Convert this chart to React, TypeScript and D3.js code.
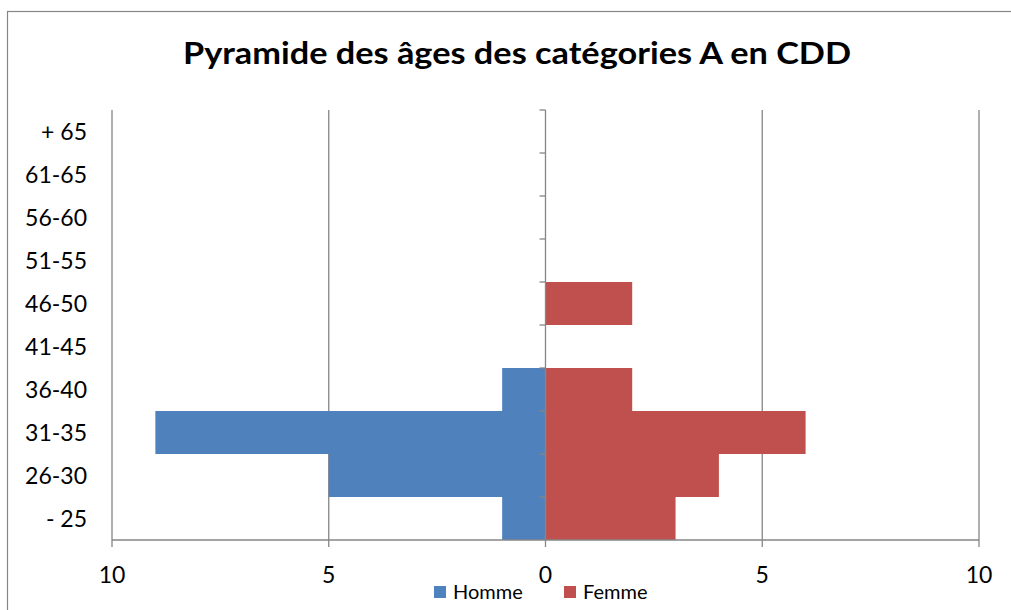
import React from "react";
import * as d3 from "d3";

const categories = ["- 25", "26-30", "31-35", "36-40", "41-45", "46-50", "51-55", "56-60", "61-65", "+ 65"];
const homme = [1, 5, 9, 1, 0, 0, 0, 0, 0, 0];
const femme = [3, 4, 6, 2, 0, 2, 0, 0, 0, 0];
const xTicks = [-10, -5, 0, 5, 10];
const title = "Pyramide des âges des catégories A en CDD";
const seriesNames = ["Homme", "Femme"];
const colors = ["#4F81BD", "#C0504D"];

const W = 1011;
const H = 610;
const FONT = "Lato, 'Open Sans', sans-serif";

export default function App() {
  const x = d3.scaleLinear().domain([-10, 10]).range([112, 979]);
  const y = d3.scaleBand<string>().domain(categories).range([540, 110]).padding(0);
  const grid = "#868686";
  const bw = y.bandwidth();

  return (
    <svg width={W} height={H} style={{ position: "absolute", left: 0, top: 0 }} fontFamily={FONT}>
      <rect x={0} y={0} width={W} height={H} fill="#fff" />
      <rect x={7.5} y={11.5} width={W + 10} height={H + 10} fill="none" stroke={grid} strokeWidth={1.2} />
      <text x={183} y={64} textAnchor="start" fontSize={31} fontWeight="bold" fill="#000"
        textLength={668} lengthAdjust="spacingAndGlyphs">
        {title}
      </text>
      {/* gridlines */}
      {xTicks.filter((t) => t !== 0).map((t) => (
        <line key={"g" + t} x1={x(t)} x2={x(t)} y1={110} y2={547} stroke={grid} strokeWidth={1.3} />
      ))}
      {/* bars */}
      {categories.map((c, i) => (
        <g key={c}>
          {homme[i] > 0 && (
            <rect x={x(-homme[i])} y={y(c)!} width={x(0) - x(-homme[i])} height={bw} fill={colors[0]} />
          )}
          {femme[i] > 0 && (
            <rect x={x(0)} y={y(c)!} width={x(femme[i]) - x(0)} height={bw} fill={colors[1]} />
          )}
        </g>
      ))}
      {/* bottom axis */}
      <line x1={x(-10)} x2={x(10)} y1={540} y2={540} stroke={grid} strokeWidth={1.3} />
      <line x1={x(0)} x2={x(0)} y1={540} y2={547} stroke={grid} strokeWidth={1.3} />
      {/* center axis */}
      <line x1={x(0)} x2={x(0)} y1={110} y2={540} stroke={grid} strokeWidth={1.3} />
      {categories.map((c) => (
        <line key={"t" + c} x1={x(0) - 6} x2={x(0)} y1={y(c)!} y2={y(c)!} stroke={grid} strokeWidth={1.3} />
      ))}
      {/* y labels */}
      {categories.map((c) => (
        <text key={"l" + c} x={87} y={y(c)! + bw / 2 + 8} textAnchor="end" fontSize={23} fill="#000">
          {c}
        </text>
      ))}
      {/* x labels */}
      {xTicks.map((t) => (
        <text key={"x" + t} x={x(t)} y={583} textAnchor="middle" fontSize={23} fill="#000">
          {Math.abs(t)}
        </text>
      ))}
      {/* legend */}
      {seriesNames.map((s, i) => (
        <g key={s} transform={`translate(${[434, 564][i]},586)`}>
          <rect x={0} y={0} width={12} height={12} fill={colors[i]} />
          <text x={19} y={12.5} fontSize={20} fill="#000">
            {s}
          </text>
        </g>
      ))}
    </svg>
  );
}
